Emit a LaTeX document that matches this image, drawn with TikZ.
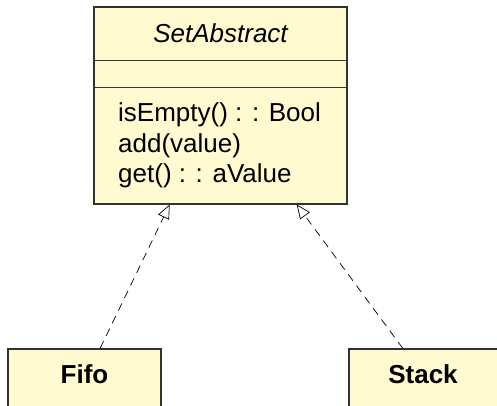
\documentclass[tikz,border=0pt]{standalone}
\usepackage{fontspec}
\setmainfont{Liberation Sans}
\usetikzlibrary{arrows.meta,calc}
\definecolor{umlfill}{RGB}{255,250,208}
\definecolor{umlline}{RGB}{50,50,50}
\tikzset{
  classbox/.style={draw=umlline, line width=1.1pt, fill=umlfill, rectangle, inner sep=0pt},
  divider/.style={draw=umlline, line width=1.1pt},
  txt/.style={inner sep=0pt, font=\fontsize{26}{30}\selectfont},
  realize/.style={draw=black, line width=0.7pt, dash pattern=on 8pt off 6pt,
    -{Triangle[open, length=14pt, width=12pt, line width=0.7pt]}}
}
\begin{document}
\begin{tikzpicture}[x=1pt, y=-1pt]
\useasboundingbox (0,0) rectangle (497,405);
\clip (0,0) rectangle (497,405);
% abstract class with its three compartments
\node[classbox, minimum width=253pt, minimum height=197pt] (main) at (220.5,105.5) {};
\draw[divider] ($(main.north west)+(0,54)$) -- ($(main.north east)+(0,54)$);
\draw[divider] ($(main.north west)+(0,81)$) -- ($(main.north east)+(0,81)$);
\node[txt, anchor=base, font=\fontsize{26}{30}\selectfont\itshape] (title) at (220.5,42) {SetAbstract};
\node[txt, anchor=base west] (m1) at (118,121) {isEmpty() : : Bool};
\node[txt, anchor=base west] (m2) at (118,152) {add(value)};
\node[txt, anchor=base west] (m3) at (118,182) {get() : : aValue};
% implementing classes
\node[classbox, minimum width=153pt, minimum height=80pt] (fifo) at (84.5,389) {};
\node[txt, anchor=base, font=\fontsize{26}{30}\selectfont\bfseries] (fifolbl) at (84.5,383) {Fifo};
\node[classbox, minimum width=153pt, minimum height=80pt] (stack) at (425.5,389) {};
\node[txt, anchor=base, font=\fontsize{26}{30}\selectfont\bfseries] (stacklbl) at (423,383) {Stack};
% realization arrows
\draw[realize] ($(fifo.north west)!0.601!(fifo.north east)$) -- ($(main.south west)!0.30!(main.south east)$);
\draw[realize] ($(stack.north west)!0.353!(stack.north east)$) -- ($(main.south west)!0.80!(main.south east)$);
\end{tikzpicture}
\end{document}
